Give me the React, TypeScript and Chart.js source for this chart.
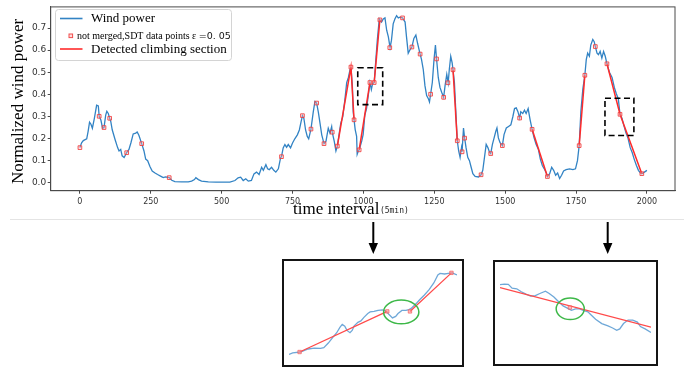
import React, { useEffect, useRef } from "react";
import { Chart, registerables } from "chart.js";

Chart.register(...registerables);

// ---------------- main series (time index, normalized wind power) ----------------
const windT = [
  0, 6, 12, 24, 29, 34, 39, 44, 51, 59, 65, 68, 74, 80, 85, 91, 95, 100, 105, 109, 114, 124, 133, 138, 144, 149, 156, 162, 165, 173,
  180, 188, 197, 202, 208, 218, 226, 232, 239, 247, 255, 265, 274, 286, 294, 302, 315, 324, 335, 359, 382, 394, 404, 409, 418, 429, 453, 480, 512, 529,
  547, 558, 567, 576, 585, 594, 605, 614, 623, 632, 641, 647, 656, 662, 668, 676, 684, 691, 700, 708, 711, 717, 723, 729, 735, 743, 750, 758, 767, 774,
  780, 785, 790, 796, 802, 807, 815, 823, 829, 835, 841, 847, 853, 861, 868, 876, 882, 888, 890, 897, 903, 908, 914, 920, 927, 935, 941, 947, 953, 956,
  961, 964, 967, 971, 976, 978, 982, 985, 994, 999, 1005, 1011, 1017, 1023, 1028, 1032, 1038, 1043, 1049, 1056, 1058, 1064, 1070, 1076, 1082, 1088, 1094, 1099, 1105, 1111,
  1117, 1123, 1129, 1138, 1147, 1152, 1158, 1164, 1171, 1178, 1185, 1191, 1200, 1205, 1211, 1217, 1223, 1229, 1233, 1237, 1243, 1249, 1254, 1258, 1264, 1270, 1276, 1283, 1288, 1294,
  1299, 1303, 1308, 1313, 1316, 1321, 1326, 1331, 1336, 1341, 1346, 1348, 1353, 1357, 1362, 1368, 1374, 1380, 1386, 1394, 1406, 1415, 1421, 1427, 1433, 1439, 1445, 1449, 1455, 1461,
  1467, 1471, 1476, 1482, 1490, 1496, 1504, 1512, 1520, 1527, 1533, 1539, 1545, 1551, 1555, 1562, 1568, 1574, 1581, 1588, 1595, 1602, 1609, 1617, 1624, 1631, 1638, 1645, 1649, 1657,
  1664, 1671, 1678, 1685, 1692, 1699, 1706, 1715, 1727, 1739, 1748, 1755, 1761, 1767, 1774, 1781, 1786, 1791, 1797, 1802, 1809, 1814, 1818, 1824, 1829, 1835, 1841, 1847, 1853, 1859,
  1868, 1877, 1885, 1892, 1899, 1905, 1912, 1918, 1926, 1933, 1941, 1948, 1955, 1963, 1970, 1977, 1982, 1991, 2000,
];
const windV = [
  0.158, 0.18, 0.19, 0.198, 0.232, 0.273, 0.264, 0.246, 0.291, 0.35, 0.347, 0.3, 0.283, 0.246, 0.249, 0.305, 0.323, 0.313, 0.291, 0.276, 0.239, 0.195, 0.158, 0.143, 0.15, 0.121, 0.113, 0.128, 0.135, 0.15,
  0.18, 0.22, 0.224, 0.229, 0.214, 0.176, 0.143, 0.106, 0.099, 0.072, 0.052, 0.043, 0.036, 0.028, 0.022, 0.025, 0.022, 0.01, 0.004, 0.003, 0.003, 0.006, 0.013, 0.022, 0.013, 0.006, 0.003, 0.002, 0.002, 0.002,
  0.009, 0.021, 0.024, 0.009, 0.017, 0.006, 0.009, 0.039, 0.047, 0.036, 0.069, 0.055, 0.081, 0.062, 0.058, 0.069, 0.055, 0.047, 0.062, 0.113, 0.117, 0.157, 0.172, 0.16, 0.172, 0.157, 0.179, 0.198, 0.216, 0.238,
  0.275, 0.303, 0.29, 0.238, 0.209, 0.198, 0.242, 0.319, 0.367, 0.36, 0.319, 0.268, 0.216, 0.176, 0.187, 0.246, 0.224, 0.253, 0.228, 0.187, 0.143, 0.165, 0.216, 0.268, 0.297, 0.379, 0.453, 0.476, 0.513, 0.523,
  0.439, 0.321, 0.284, 0.24, 0.209, 0.128, 0.143, 0.148, 0.188, 0.217, 0.306, 0.335, 0.394, 0.453, 0.421, 0.446, 0.453, 0.542, 0.646, 0.741, 0.737, 0.727, 0.741, 0.746, 0.69, 0.66, 0.611, 0.645, 0.719, 0.741,
  0.756, 0.746, 0.749, 0.746, 0.727, 0.66, 0.586, 0.601, 0.614, 0.653, 0.668, 0.631, 0.582, 0.557, 0.513, 0.439, 0.394, 0.38, 0.365, 0.4, 0.453, 0.557, 0.623, 0.56, 0.476, 0.431, 0.409, 0.386, 0.439, 0.49,
  0.452, 0.513, 0.572, 0.542, 0.511, 0.453, 0.321, 0.189, 0.143, 0.114, 0.158, 0.139, 0.247, 0.201, 0.158, 0.114, 0.099, 0.069, 0.04, 0.028, 0.025, 0.035, 0.055, 0.114, 0.173, 0.158, 0.136, 0.131, 0.173, 0.202,
  0.232, 0.247, 0.202, 0.18, 0.167, 0.217, 0.247, 0.254, 0.261, 0.298, 0.335, 0.338, 0.321, 0.292, 0.321, 0.313, 0.328, 0.313, 0.335, 0.284, 0.241, 0.202, 0.173, 0.151, 0.106, 0.077, 0.062, 0.043, 0.027, 0.04,
  0.069, 0.055, 0.033, 0.043, 0.018, 0.033, 0.052, 0.058, 0.062, 0.058, 0.062, 0.099, 0.167, 0.321, 0.424, 0.486, 0.557, 0.586, 0.572, 0.623, 0.648, 0.638, 0.616, 0.586, 0.579, 0.594, 0.564, 0.594, 0.572, 0.538,
  0.498, 0.476, 0.431, 0.402, 0.38, 0.309, 0.291, 0.261, 0.225, 0.202, 0.158, 0.136, 0.106, 0.077, 0.055, 0.043, 0.04, 0.047, 0.055,
];

// SDT data points (not merged), epsilon = 0.05
const sdtT = [0, 68, 85, 105, 165, 218, 315, 711, 785, 815, 835, 861, 890, 908, 956, 967, 985, 1023, 1038, 1058, 1093, 1138, 1171, 1200, 1237, 1258, 1283, 1298, 1316, 1331, 1348, 1357, 1415, 1449, 1490, 1551, 1595, 1649, 1761, 1781, 1818, 1859, 1905, 1982];
const sdtV = [0.158, 0.3, 0.249, 0.291, 0.135, 0.176, 0.022, 0.117, 0.303, 0.242, 0.36, 0.176, 0.228, 0.165, 0.523, 0.284, 0.148, 0.453, 0.453, 0.737, 0.611, 0.746, 0.614, 0.582, 0.4, 0.56, 0.386, 0.452, 0.511, 0.189, 0.139, 0.201, 0.035, 0.131, 0.167, 0.292, 0.241, 0.027, 0.167, 0.486, 0.616, 0.538, 0.309, 0.04];

// detected climbing sections
const climbT = [[908, 956, 967], [985, 1023], [1038, 1058], [1316, 1331], [1595, 1649], [1761, 1781], [1859, 1905, 1982]];
const climbV = [[0.165, 0.523, 0.284], [0.148, 0.453], [0.453, 0.737], [0.511, 0.189], [0.241, 0.027], [0.167, 0.486], [0.538, 0.309, 0.04]];

// highlighted regions (dashed boxes)
const boxT = [[980, 1068], [1852, 1954]];
const boxV = [[0.353, 0.52], [0.213, 0.382]];

const xTicks = [0, 250, 500, 750, 1000, 1250, 1500, 1750, 2000];
const yTicks = [0, 0.1, 0.2, 0.3, 0.4, 0.5, 0.6, 0.7];

// ---------------- inset 1 (local units 0..100) ----------------
const in1T = [0, 2.2, 6.8, 11.4, 15.1, 18.8, 20.7, 23.4, 26.2, 28.4, 30.3, 31.7, 33.2, 34.5, 36.3, 37.6, 38.7, 41.0, 42.8, 44.6, 46.9, 48.3, 50.6, 53.0, 55.7, 57.9, 59.4, 61.6, 63.5, 64.9, 67.2, 69.6, 71.4, 72.7, 74.2, 76.0, 77.9, 80.6, 83.4, 86.2, 88.6, 89.9, 92.6, 94.8, 97.2, 100];
const in1V = [6.0, 7.6, 8.5, 11.7, 12.6, 12.3, 13.2, 18.0, 24.3, 29.0, 34.7, 37.9, 36.0, 31.5, 29.0, 31.5, 36.0, 40.1, 41.6, 45.4, 49.5, 51.1, 51.7, 52.7, 53.3, 51.7, 48.6, 44.8, 46.4, 49.5, 52.7, 52.7, 53.6, 54.9, 57.4, 60.6, 64.4, 69.1, 74.8, 82.0, 90.5, 92.1, 91.5, 92.1, 92.7, 90.5];
const in1RedT = [[6.3, 58.5], [72.0, 96.7]];
const in1RedV = [[8.5, 51.7], [51.7, 92.7]];
const in1SqT = [6.3, 58.5, 72.0, 96.7];
const in1SqV = [8.5, 51.7, 51.7, 92.7];
const in1Ellipse = [66.8, 51.1, 10.5, 12.6];

// ---------------- inset 2 (local units 0..100) ----------------
const in2T = [0, 2.9, 5.5, 8.0, 11.1, 14.1, 17.2, 20.3, 23.4, 26.4, 30.1, 32.6, 35.7, 38.7, 41.8, 44.9, 47.3, 50.0, 52.7, 55.1, 58.2, 60.2, 63.3, 67.4, 71.5, 74.6, 77.3, 79.3, 81.8, 84.8, 87.9, 91.0, 93.0, 96.1, 100];
const in2V = [80.8, 81.4, 81.1, 76.9, 76.3, 73.1, 70.5, 68.3, 68.9, 71.2, 73.7, 71.2, 67.3, 62.5, 57.7, 55.1, 52.9, 54.5, 54.5, 52.9, 51.3, 48.1, 43.3, 38.5, 35.9, 33.7, 31.1, 32.7, 38.5, 42.3, 42.3, 40.1, 35.3, 32.7, 28.8];
const in2RedT = [[0, 100]];
const in2RedV = [[77.6, 34.6]];
const in2SqT = [46.3];
const in2SqV = [56.0];
const in2Ellipse = [46.5, 54.5, 9.3, 11.7];

const BLUE = "#3283c4";
const RED = "#ff2b2b";
const SERIF = '"Liberation Serif", "Times New Roman", serif';

const pts = (ts: number[], vs: number[]) => ts.map((t, i) => ({ x: t, y: vs[i] }));

const mainPlugin = {
  id: "mainDecor",
  afterDatasetsDraw(chart: any) {
    const { ctx } = chart;
    const xs = chart.scales.x;
    const ys = chart.scales.y;
    ctx.save();
    ctx.strokeStyle = "#000";
    ctx.lineWidth = 1.6;
    ctx.setLineDash([6, 3.5]);
    boxT.forEach((bt, i) => {
      const x0 = xs.getPixelForValue(bt[0]);
      const x1 = xs.getPixelForValue(bt[1]);
      const y0 = ys.getPixelForValue(boxV[i][1]);
      const y1 = ys.getPixelForValue(boxV[i][0]);
      ctx.strokeRect(x0, y0, x1 - x0, y1 - y0);
    });
    ctx.restore();
  },
  afterDraw(chart: any) {
    const { ctx, chartArea: ca } = chart;
    ctx.save();
    // frame
    ctx.strokeStyle = "#4a4a4a";
    ctx.lineWidth = 1;
    ctx.strokeRect(ca.left, ca.top, ca.right - ca.left, ca.bottom - ca.top);

    // y title
    ctx.save();
    ctx.translate(19, 101.5);
    ctx.rotate(-Math.PI / 2);
    ctx.font = `17px ${SERIF}`;
    ctx.fillStyle = "#000";
    ctx.textAlign = "center";
    ctx.textBaseline = "middle";
    ctx.fillText("Normalized wind power", 0, 0);
    ctx.restore();

    // x title
    ctx.font = `17px ${SERIF}`;
    ctx.fillStyle = "#000";
    ctx.textAlign = "left";
    ctx.textBaseline = "alphabetic";
    ctx.fillText("time interval", 293, 213.5);
    const w = ctx.measureText("time interval").width;
    ctx.font = '8px "DejaVu Sans Mono", monospace';
    ctx.fillStyle = "#222";
    ctx.fillText("(5min)", 293 + w + 0.5, 213);

    // legend
    ctx.beginPath();
    if (ctx.roundRect) ctx.roundRect(55.5, 9.5, 176, 51, 3);
    else ctx.rect(55.5, 9.5, 176, 51);
    ctx.fillStyle = "rgba(255,255,255,0.85)";
    ctx.fill();
    ctx.strokeStyle = "#d4d4d4";
    ctx.lineWidth = 1;
    ctx.stroke();

    ctx.strokeStyle = BLUE;
    ctx.lineWidth = 1.6;
    ctx.beginPath();
    ctx.moveTo(60, 18.5);
    ctx.lineTo(82.5, 18.5);
    ctx.stroke();
    ctx.fillStyle = "#000";
    ctx.font = `13px ${SERIF}`;
    ctx.fillText("Wind power", 91, 22);

    ctx.fillStyle = "rgba(255,190,190,0.5)";
    ctx.fillRect(69, 34, 3.6, 3.6);
    ctx.strokeStyle = "rgba(240,60,60,0.9)";
    ctx.lineWidth = 1;
    ctx.strokeRect(69, 34, 3.6, 3.6);
    ctx.fillStyle = "#000";
    ctx.font = `10px ${SERIF}`;
    const t1 = "not merged,SDT data points \u03b5 ";
    ctx.fillText(t1, 77, 38.7);
    const w1 = ctx.measureText(t1).width;
    ctx.font = '9.5px "DejaVu Sans", sans-serif';
    ctx.fillStyle = "#111";
    ctx.fillText("=0. 05", 77 + w1, 38.7);

    ctx.strokeStyle = RED;
    ctx.lineWidth = 1.6;
    ctx.beginPath();
    ctx.moveTo(60, 49);
    ctx.lineTo(82.5, 49);
    ctx.stroke();
    ctx.fillStyle = "#000";
    ctx.font = `13px ${SERIF}`;
    ctx.fillText("Detected climbing section", 91, 52.7);

    // separator
    ctx.strokeStyle = "#e4e4e4";
    ctx.lineWidth = 1;
    ctx.beginPath();
    ctx.moveTo(10, 219.5);
    ctx.lineTo(684, 219.5);
    ctx.stroke();

    // arrows
    [373.3, 607.7].forEach((ax) => {
      ctx.strokeStyle = "#000";
      ctx.lineWidth = 2;
      ctx.beginPath();
      ctx.moveTo(ax, 222);
      ctx.lineTo(ax, 245);
      ctx.stroke();
      ctx.fillStyle = "#000";
      ctx.beginPath();
      ctx.moveTo(ax - 4.7, 243);
      ctx.lineTo(ax + 4.7, 243);
      ctx.lineTo(ax, 254);
      ctx.closePath();
      ctx.fill();
    });
    ctx.restore();
  },
};

const ellipsePlugin = (e: number[]) => ({
  id: "ellipse",
  afterDatasetsDraw(chart: any) {
    const { ctx } = chart;
    const xs = chart.scales.x;
    const ys = chart.scales.y;
    const cx = xs.getPixelForValue(e[0]);
    const cy = ys.getPixelForValue(e[1]);
    const rx = Math.abs(xs.getPixelForValue(e[0] + e[2]) - cx);
    const ry = Math.abs(ys.getPixelForValue(e[1] + e[3]) - cy);
    ctx.save();
    ctx.strokeStyle = "#3db848";
    ctx.lineWidth = 1.5;
    ctx.beginPath();
    ctx.ellipse(cx, cy, rx, ry, 0, 0, Math.PI * 2);
    ctx.stroke();
    ctx.restore();
  },
});

function makeInset(canvas: HTMLCanvasElement, t: number[], v: number[], rt: number[][], rv: number[][], st: number[], sv: number[], el: number[]) {
  return new Chart(canvas, {
    type: "line",
    data: {
      datasets: [
        { data: pts(t, v), borderColor: "#6fa8d8", borderWidth: 1.3, pointRadius: 0, tension: 0, order: 3 },
        ...rt.map((seg, k) => ({ data: pts(seg, rv[k]), borderColor: "#ff4a4a", borderWidth: 1.3, pointRadius: 0, order: 2 })),
        {
          data: pts(st, sv),
          showLine: false,
          pointStyle: "rect",
          pointRadius: 2.4,
          pointBorderWidth: 1,
          pointBorderColor: "rgba(245,90,90,0.7)",
          pointBackgroundColor: "rgba(255,150,150,0.6)",
          order: 1,
        },
      ],
    },
    options: {
      animation: false,
      responsive: false,
      events: [],
      layout: { padding: 0 },
      plugins: { legend: { display: false }, tooltip: { enabled: false } },
      scales: {
        x: { type: "linear", min: 0, max: 100, display: false },
        y: { type: "linear", min: 0, max: 100, display: false },
      },
    },
    plugins: [ellipsePlugin(el)],
  } as any);
}

export default function App() {
  const mainRef = useRef<HTMLCanvasElement>(null);
  const in1Ref = useRef<HTMLCanvasElement>(null);
  const in2Ref = useRef<HTMLCanvasElement>(null);

  useEffect(() => {
    const tickFont = { family: '"DejaVu Sans", sans-serif', size: 8 };
    const main = new Chart(mainRef.current!, {
      type: "line",
      data: {
        datasets: [
          { label: "Wind power", data: pts(windT, windV), borderColor: BLUE, borderWidth: 1.3, pointRadius: 0, tension: 0, order: 3 },
          ...climbT.map((seg, k) => ({
            label: "Detected climbing section",
            data: pts(seg, climbV[k]),
            borderColor: RED,
            borderWidth: 1.5,
            pointRadius: 0,
            order: 2,
          })),
          {
            label: "not merged,SDT data points",
            data: pts(sdtT, sdtV),
            showLine: false,
            pointStyle: "rect",
            pointRadius: 2.6,
            pointBorderWidth: 1,
            pointBorderColor: "rgba(240,60,60,0.85)",
            pointBackgroundColor: "rgba(255,190,190,0.35)",
            order: 1,
          },
        ],
      },
      options: {
        animation: false,
        responsive: false,
        events: [],
        layout: { padding: { left: 0, right: 11, top: 2.7, bottom: 151 } },
        plugins: { legend: { display: false }, tooltip: { enabled: false } },
        scales: {
          x: {
            type: "linear",
            min: -103,
            max: 2099,
            afterBuildTicks: (s: any) => {
              s.ticks = xTicks.map((value) => ({ value }));
            },
            afterFit: (s: any) => {
              s.height = 31.3;
            },
            grid: { drawOnChartArea: false, drawTicks: true, tickLength: 3, color: "#4a4a4a" },
            border: { display: true, color: "#4a4a4a" },
            ticks: { font: tickFont, color: "#333", padding: 3, maxRotation: 0, autoSkip: false, callback: (v: any) => String(v) },
          },
          y: {
            type: "linear",
            min: -0.0372,
            max: 0.7958,
            afterBuildTicks: (s: any) => {
              s.ticks = yTicks.map((value) => ({ value }));
            },
            afterFit: (s: any) => {
              s.width = 50.7;
            },
            grid: { drawOnChartArea: false, drawTicks: true, tickLength: 3, color: "#4a4a4a" },
            border: { display: true, color: "#4a4a4a" },
            ticks: { font: { family: '"DejaVu Sans", sans-serif', size: 9 }, color: "#333", padding: 1.5, autoSkip: false, callback: (v: any) => Number(v).toFixed(1) },
          },
        },
      },
      plugins: [mainPlugin],
    } as any);

    const c1 = makeInset(in1Ref.current!, in1T, in1V, in1RedT, in1RedV, in1SqT, in1SqV, in1Ellipse);
    const c2 = makeInset(in2Ref.current!, in2T, in2V, in2RedT, in2RedV, in2SqT, in2SqV, in2Ellipse);

    return () => {
      main.destroy();
      c1.destroy();
      c2.destroy();
    };
  }, []);

  const boxStyle = (left: number, top: number, w: number, h: number): React.CSSProperties => ({
    position: "absolute",
    left,
    top,
    width: w,
    height: h,
    boxSizing: "border-box",
    border: "2px solid #151515",
    background: "#fff",
  });

  return (
    <div style={{ position: "absolute", left: 0, top: 0, width: 686, height: 373, background: "#fff", overflow: "hidden" }}>
      <canvas ref={mainRef} width={686} height={373} style={{ position: "absolute", left: 0, top: 0, width: 686, height: 373 }} />
      <div style={boxStyle(282, 259, 182, 108)}>
        <canvas ref={in1Ref} width={178} height={104} style={{ display: "block", width: 178, height: 104 }} />
      </div>
      <div style={boxStyle(493, 260, 165, 106)}>
        <canvas ref={in2Ref} width={161} height={102} style={{ display: "block", width: 161, height: 102 }} />
      </div>
    </div>
  );
}
